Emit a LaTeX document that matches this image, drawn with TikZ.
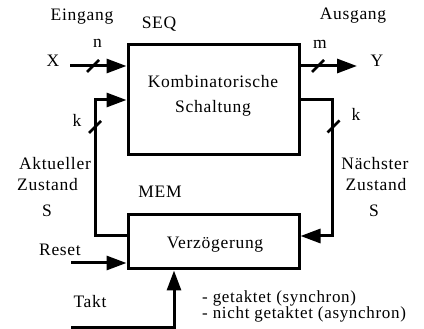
\documentclass[tikz,border=0pt]{standalone}
\usepackage{fontspec}
\setmainfont{Liberation Serif}[LetterSpace=4]
\usetikzlibrary{arrows.meta,calc}
\tikzset{
  blk/.style={draw,line width=3pt,rectangle,inner sep=0pt},
  wire/.style={line width=3pt},
  arr/.style={line width=3pt,-{Triangle[length=20pt,width=14pt]}},
  lbl/.style={anchor=base,inner sep=0pt,font=\fontsize{17.5}{20}\selectfont},
  lblw/.style={anchor=base west,inner sep=0pt,font=\fontsize{17}{19}\selectfont},
  slashmark/.style={line width=2.5pt}
}
\begin{document}
\begin{tikzpicture}[x=1pt,y=-1pt]
\useasboundingbox (0,0) rectangle (424,329);
% blocks
\node[blk,minimum width=171pt,minimum height=110pt] (seq) at (213.5,100) {};
\node[blk,minimum width=171pt,minimum height=54pt] (mem) at (213.5,242) {};
% texts
\node[lbl] (t1) at (213,88) {Kombinatorische};
\node[lbl] (t2) at (213,113) {Schaltung};
\node[lbl] (t3) at (215,248) {Verzögerung};
\node[lbl] (lseq) at (159,29) {SEQ};
\node[lbl] (lmem) at (160,198) {MEM};
\node[lbl] (lein) at (82,21) {Eingang};
\node[lbl] (laus) at (353,20) {Ausgang};
\node[lbl] (lx) at (53,67) {X};
\node[lbl] (ly) at (377,67) {Y};
\node[lbl] (ln) at (97.5,48) {n};
\node[lbl] (lm) at (320,49) {m};
\node[lbl] (lk1) at (77,127) {k};
\node[lbl] (lk2) at (356,121) {k};
\node[lbl] (la1) at (55,170) {Aktueller};
\node[lbl] (la2) at (47.5,190) {Zustand};
\node[lbl] (la3) at (47,217) {S};
\node[lbl] (lb1) at (375,170) {Nächster};
\node[lbl] (lb2) at (376,190) {Zustand};
\node[lbl] (lb3) at (374,217) {S};
\node[lbl] (lreset) at (60,255) {Reset};
\node[lbl] (ltakt) at (90,308) {Takt};
\node[lblw] (lg1) at (202,302) {- getaktet (synchron)};
\node[lblw] (lg2) at (202,318.5) {- nicht getaktet (asynchron)};
% coordinates
\coordinate (xin) at (70,66);
\coordinate (yout) at (357,66);
\coordinate (lfb) at (95,100);
\coordinate (rfb) at (332,100);
\coordinate (lfbb) at (95,236);
\coordinate (rfbb) at (332,236);
\coordinate (rin) at (71,263);
\coordinate (tin) at (71,327);
\coordinate (tcorner) at (174,327);
\coordinate (s1) at (93,66);
\coordinate (s2) at (95,127);
\coordinate (s3) at (318,66);
\coordinate (s4) at (333.5,126.5);
% connectors
\draw[arr] (xin) -- (xin -| seq.west);
\draw[arr] (seq.east |- yout) -- (yout);
\draw[arr] (mem.west |- lfbb) -- (lfbb) -- (lfb) -- (lfb -| seq.west);
\draw[arr] (seq.east |- rfb) -- (rfb) -- (rfbb) -- (rfbb -| mem.east);
\draw[arr] (rin) -- (rin -| mem.west);
\draw[arr] (tin) -- (tcorner) -- (tcorner |- mem.south);
% bus slashes
\foreach \s in {s1,s2,s3,s4}{
  \draw[slashmark] ([shift={(-6,6)}]\s) -- ([shift={(6,-6)}]\s);
}
\end{tikzpicture}
\end{document}
